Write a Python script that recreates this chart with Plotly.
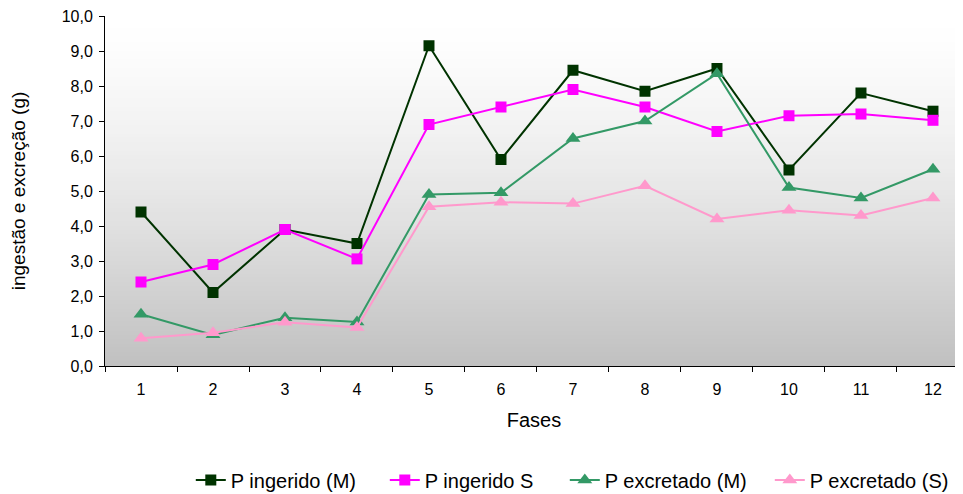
import plotly.graph_objects as go

fases = [str(i) for i in range(1, 13)]
p_ing_m = [4.4, 2.1, 3.9, 3.5, 9.15, 5.9, 8.45, 7.85, 8.5, 5.6, 7.8, 7.28]
p_ing_s = [2.4, 2.9, 3.9, 3.06, 6.9, 7.4, 7.9, 7.4, 6.7, 7.15, 7.2, 7.02]
p_exc_m = [1.48, 0.89, 1.38, 1.26, 4.9, 4.95, 6.5, 7.0, 8.35, 5.1, 4.8, 5.62]
p_exc_s = [0.79, 0.95, 1.25, 1.1, 4.55, 4.68, 4.64, 5.15, 4.2, 4.45, 4.3, 4.8]
y_ticks = [0, 1, 2, 3, 4, 5, 6, 7, 8, 9, 10]
y_ticktext = ["0,0", "1,0", "2,0", "3,0", "4,0", "5,0", "6,0", "7,0", "8,0", "9,0", "10,0"]

series = [
    ("P ingerido (M)", p_ing_m, "#003300", "square", 11, 149),
    ("P ingerido S", p_ing_s, "#FF00FF", "square", 11, 135),
    ("P excretado (M)", p_exc_m, "#339966", "triangle-up", 13, 160),
    ("P excretado (S)", p_exc_s, "#FF99CC", "triangle-up", 13, 140),
]

fig = go.Figure()
for name, vals, col, sym, sz, lw in series:
    fig.add_trace(go.Scatter(
        x=fases, y=vals, name=name, mode="lines+markers",
        line=dict(color=col, width=2),
        marker=dict(color=col, symbol=sym, size=sz, line=dict(width=0)),
        legendwidth=lw,
    ))

# gradient background (plot area), white at top to gray at bottom
n = 80
shapes = []
for i in range(n):
    t = (i + 0.5) / n  # 0 at top
    v = int(round(255 - 63 * t ** 1.4))
    shapes.append(dict(type="rect", xref="paper", yref="paper",
                       x0=0, x1=1, y0=1 - (i + 1) / n, y1=1 - i / n + 0.002,
                       fillcolor=f"rgb({v},{v},{v})", line=dict(width=0),
                       layer="below"))

font = "Liberation Sans, Arial, sans-serif"
# page has an 8px body margin, so the figure is 8px smaller than the window
fig.update_layout(
    width=955, height=486,
    margin=dict(l=97, r=0, t=8, b=128, autoexpand=False),
    paper_bgcolor="white", plot_bgcolor="rgba(0,0,0,0)",
    shapes=shapes,
    font=dict(family=font, size=16, color="black"),
    showlegend=True,
    legend=dict(orientation="h", x=0.1, xanchor="left", y=-0.326, yanchor="middle",
                font=dict(size=20, family=font), bgcolor="rgba(0,0,0,0)",
                itemwidth=30, tracegroupgap=0),
    xaxis=dict(type="category", range=[-0.5, 11.417], showline=True, linecolor="black",
               linewidth=1, ticks="outside", tickson="boundaries", ticklen=5,
               tickcolor="black", showgrid=False, zeroline=False, automargin=False,
               ticklabelstandoff=9,
               tickfont=dict(size=16), title=dict(text="Fases", font=dict(size=20), standoff=15)),
    yaxis=dict(range=[0, 10], tickvals=y_ticks, ticktext=y_ticktext, showline=True,
               linecolor="black", linewidth=1, ticks="outside", ticklen=5, tickcolor="black",
               showgrid=False, zeroline=False, tickfont=dict(size=16), automargin=False,
               ticklabeloverflow="allow", ticklabelstandoff=3,
               title=dict(text="ingestão e excreção (g)", font=dict(size=19), standoff=39)),
)

fig.write_html("out.html")
